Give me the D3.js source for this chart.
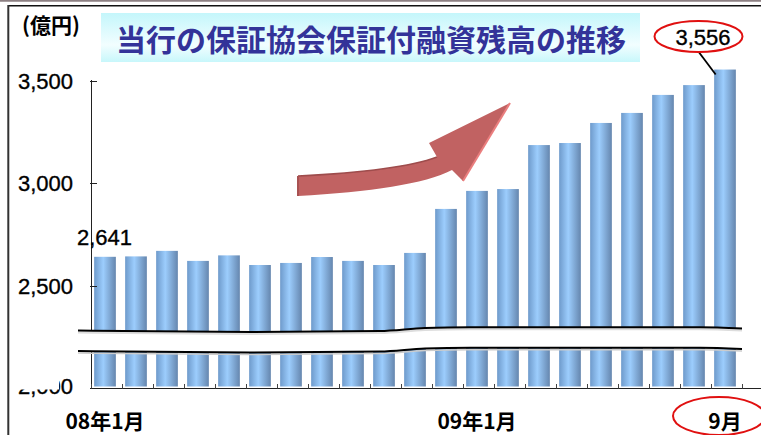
<!DOCTYPE html>
<html>
<head>
<meta charset="utf-8">
<script src="https://cdn.jsdelivr.net/npm/d3@7"></script>
<style>
  html, body { margin: 0; padding: 0; background: #fff; }
  svg { display: block; }
</style>
</head>
<body>
<div id="chart"></div>
<script>
// monthly balance, 08/1 .. 09/9 (億円)
var months = ["08/01","08/02","08/03","08/04","08/05","08/06","08/07","08/08","08/09","08/10","08/11","08/12",
              "09/01","09/02","09/03","09/04","09/05","09/06","09/07","09/08","09/09"];
var balance = [2641, 2643, 2670, 2621, 2648, 2601, 2611, 2640, 2621, 2601, 2660, 2875,
               2963, 2972, 3187, 3197, 3295, 3344, 3432, 3480, 3556];
var yTicks = [2000, 2500, 3000, 3500];
var xLabels = { "08/01": "08年1月", "09/01": "09年1月", "09/09": "9月" };

var width = 761, height = 435;
var fontNum = "'Liberation Sans', Arial, sans-serif";
var fontJp = "'Noto Sans CJK JP', 'Noto Sans', sans-serif";

var svg = d3.select("#chart").append("svg")
  .attr("width", width)
  .attr("height", height);

var defs = svg.append("defs");
var barGrad = defs.append("linearGradient").attr("id", "barGrad")
  .attr("x1", 0).attr("x2", 1).attr("y1", 0).attr("y2", 0);
barGrad.append("stop").attr("offset", "0%").attr("stop-color", "#6e9acb");
barGrad.append("stop").attr("offset", "42%").attr("stop-color", "#9ccdfd");
barGrad.append("stop").attr("offset", "100%").attr("stop-color", "#6586ae");

var titleGrad = defs.append("linearGradient").attr("id", "titleGrad")
  .attr("x1", 0).attr("x2", 0).attr("y1", 0).attr("y2", 1);
titleGrad.append("stop").attr("offset", "0%").attr("stop-color", "#c4f6fb");
titleGrad.append("stop").attr("offset", "65%").attr("stop-color", "#f2feff");
titleGrad.append("stop").attr("offset", "100%").attr("stop-color", "#c8f7fb");

// frame
svg.append("line").attr("x1", 0).attr("x2", width).attr("y1", 0.8).attr("y2", 0.8)
  .attr("stroke", "#8d8083").attr("stroke-width", 1.8);
svg.append("line").attr("x1", 8).attr("x2", width).attr("y1", 5.8).attr("y2", 5.8)
  .attr("stroke", "#111").attr("stroke-width", 1.6);
svg.append("line").attr("x1", 8.3).attr("x2", 8.3).attr("y1", 5).attr("y2", height)
  .attr("stroke", "#333").attr("stroke-width", 2);

// scales
var x = d3.scaleBand().domain(months).range([91, 742]).paddingInner(0.3).paddingOuter(0.15);
var y = d3.scaleLinear().domain([2000, 3500]).range([388, 81]);

// bars
svg.append("g").selectAll("rect")
  .data(balance)
  .enter().append("rect")
  .attr("x", function (d, i) { return x(months[i]) - 1.5; })
  .attr("width", x.bandwidth())
  .attr("y", function (d) { return y(d); })
  .attr("height", function (d) { return y(2000) - 1.5 - y(d); })
  .attr("fill", "url(#barGrad)");

// y axis
var numStyle = function (sel) {
  sel.style("font-family", fontNum)
    .style("font-size", "22px")
    .attr("fill", "#000")
    .attr("stroke", "#000")
    .attr("stroke-width", 0.35);
};
var yAxis = svg.append("g");
yAxis.append("line").attr("x1", 91.5).attr("x2", 91.5).attr("y1", y(3500) - 1).attr("y2", y(2000))
  .attr("stroke", "#222").attr("stroke-width", 1);
yAxis.selectAll("line.tick").data(yTicks).enter().append("line")
  .attr("class", "tick")
  .attr("x1", 90).attr("x2", 97)
  .attr("y1", function (d) { return Math.round(y(d)) + 0.5; })
  .attr("y2", function (d) { return Math.round(y(d)) + 0.5; })
  .attr("stroke", "#222");
yAxis.selectAll("text").data(yTicks).enter().append("text")
  .attr("x", 73)
  .attr("y", function (d) { return y(d) - (d === 2000 ? 2 : 0); })
  .attr("dy", "0.36em")
  .attr("text-anchor", "end")
  .call(numStyle)
  .text(function (d) { return d3.format(",")(d); });
// the 2,000 label is mostly hidden behind a white box, leaving its last "0"
svg.append("rect").attr("x", 12).attr("y", 362).attr("width", 47).attr("height", 27.5).attr("fill", "#fff");

// x axis
var band = x.step();
var xStart = 91;
svg.append("line").attr("x1", xStart).attr("x2", width).attr("y1", 388.5).attr("y2", 388.5)
  .attr("stroke", "#222");
svg.append("g").selectAll("line")
  .data(d3.range(months.length + 1))
  .enter().append("line")
  .attr("x1", function (i) { return Math.round(xStart + i * band) + 0.5; })
  .attr("x2", function (i) { return Math.round(xStart + i * band) + 0.5; })
  .attr("y1", 384).attr("y2", 388.5)
  .attr("stroke", "#444");
svg.append("g").selectAll("text")
  .data(months.filter(function (m) { return xLabels[m]; }))
  .enter().append("text")
  .attr("x", function (m) { return x(m) + x.bandwidth() / 2 - 1.5; })
  .attr("y", 429)
  .attr("text-anchor", "middle")
  .style("font-family", fontJp)
  .style("font-weight", "bold")
  .style("font-size", "21px")
  .attr("fill", "#000")
  .text(function (m) { return xLabels[m]; });

// axis break band
var breakUpper = [[78, 330.5], [250, 332], [380, 331], [425, 328], [470, 327.2], [700, 327.2], [742, 328.5]];
var breakLower = breakUpper.map(function (p) { return [p[0], p[1] + 20.5]; });
var curve = d3.line().curve(d3.curveMonotoneX);
var bandArea = d3.area().curve(d3.curveMonotoneX)
  .x(function (p) { return p[0]; })
  .y0(function (p) { return p[1]; })
  .y1(function (p, i) { return breakLower[i][1]; });
svg.append("path").attr("d", bandArea(breakUpper)).attr("fill", "#fff");
svg.append("path").attr("d", curve(breakUpper.map(function (p) { return [p[0], p[1] + 2]; })))
  .attr("fill", "none").attr("stroke", "#ddd").attr("stroke-width", 2);
svg.append("path").attr("d", curve(breakLower.map(function (p) { return [p[0], p[1] + 2]; })))
  .attr("fill", "none").attr("stroke", "#ccc").attr("stroke-width", 1.5);
[breakUpper, breakLower].forEach(function (pts) {
  svg.append("path").attr("d", curve(pts))
    .attr("fill", "none").attr("stroke", "#000").attr("stroke-width", 2);
});

// title
svg.append("rect").attr("x", 101).attr("y", 13).attr("width", 539).attr("height", 49)
  .attr("fill", "url(#titleGrad)");
svg.append("text")
  .attr("x", 371).attr("y", 40)
  .attr("dy", "0.36em")
  .attr("text-anchor", "middle")
  .style("font-family", fontJp)
  .style("font-weight", "bold")
  .style("font-size", "30px")
  .attr("fill", "#333399")
  .text("当行の保証協会保証付融資残高の推移");

svg.append("text")
  .attr("x", 51).attr("y", 25)
  .attr("dy", "0.36em")
  .attr("text-anchor", "middle")
  .style("font-family", fontJp)
  .style("font-weight", "bold")
  .style("font-size", "21px")
  .attr("fill", "#000")
  .text("(億円)");

// growth arrow
var arrow = svg.append("g");
arrow.append("path")
  .attr("d", "M298,176 C360,173 410,167 437,157 L429,143 L510,103 L463,181 L452,170 C425,184 370,192 298,196 Z")
  .attr("fill", "#c16262");
arrow.append("path")
  .attr("d", "M298,176 C360,173 410,167 437,157")
  .attr("fill", "none").attr("stroke", "#9e4c4c").attr("stroke-width", 1.5);
arrow.append("path")
  .attr("d", "M510,103 L463,181")
  .attr("fill", "none").attr("stroke", "#ea7e7e").attr("stroke-width", 2);
arrow.append("path")
  .attr("d", "M298,176 L298,196")
  .attr("fill", "none").attr("stroke", "#a85252").attr("stroke-width", 2);

// first value label
var first = balance[0];
svg.append("text")
  .attr("x", x(months[0]) + x.bandwidth() / 2 - 2)
  .attr("y", y(first) - 12)
  .attr("text-anchor", "middle")
  .call(numStyle)
  .text(d3.format(",")(first));

// last value callout
var lastI = balance.length - 1;
var last = balance[lastI];
svg.append("line")
  .attr("x1", 698).attr("y1", 51)
  .attr("x2", x(months[lastI])).attr("y2", y(last) + 5)
  .attr("stroke", "#000").attr("stroke-width", 1.8);
svg.append("ellipse")
  .attr("cx", 698.5).attr("cy", 36.5).attr("rx", 44).attr("ry", 15.5)
  .attr("fill", "#fff").attr("stroke", "#e01010").attr("stroke-width", 2);
svg.append("text")
  .attr("x", 703).attr("y", 37)
  .attr("dy", "0.36em")
  .attr("text-anchor", "middle")
  .call(numStyle)
  .text(d3.format(",")(last));

// circle round the last month label
svg.append("ellipse")
  .attr("cx", 719).attr("cy", 416).attr("rx", 46).attr("ry", 19)
  .attr("fill", "none").attr("stroke", "#e01010").attr("stroke-width", 2);
</script>
</body>
</html>
